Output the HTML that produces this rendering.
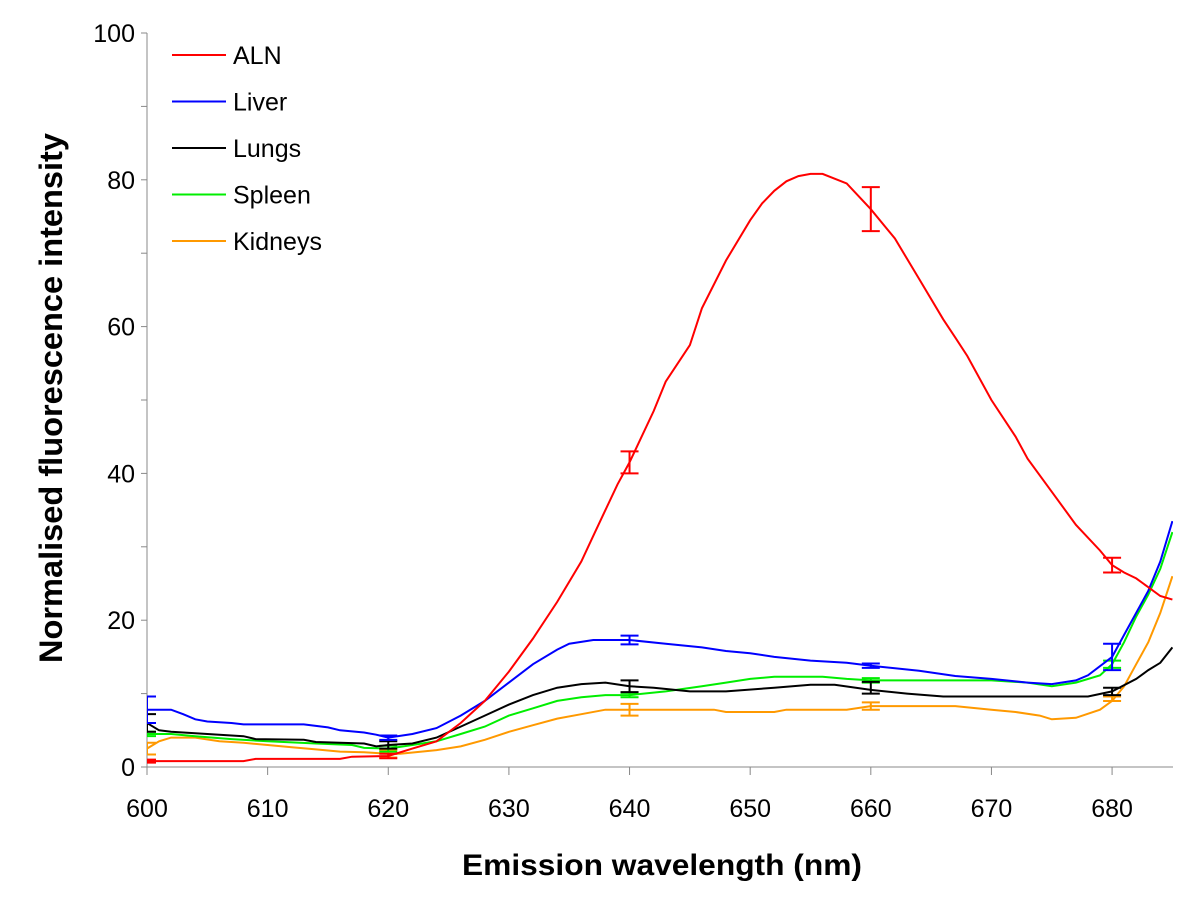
<!DOCTYPE html>
<html><head><meta charset="utf-8"><style>
body{margin:0;background:#fff}
svg text{font-family:"Liberation Sans",sans-serif}
</style></head><body>
<svg id="c" width="1200" height="901" xmlns="http://www.w3.org/2000/svg"></svg>
<script>
const xTicks=[600,610,620,630,640,650,660,670,680];
const yTicks=[0,20,40,60,80,100];
const seriesNames=["ALN","Liver","Lungs","Spleen","Kidneys"];
const seriesColors=["#ff0000","#0000ff","#000000","#00ee00","#ff9900"];
const alnX=[600,608,609,616,617,620,622,624,626,628,630,632,634,636,637,638,639,640,641,642,643,645,646,648,650,651,652,653,654,655,656,658,660,662,664,666,667,668,670,672,673,675,677,679,680,681,682,683,684,685];
const alnY=[0.8,0.8,1.1,1.1,1.4,1.5,2.5,3.5,6,9,13,17.5,22.5,28,31.5,35,38.5,41.5,45,48.5,52.5,57.5,62.5,69,74.5,76.8,78.5,79.8,80.5,80.8,80.8,79.5,76,72,66.5,61,58.5,56,50,45,42,37.5,33,29.5,27.5,26.5,25.7,24.5,23.3,22.8];
const liverX=[600,602,603,604,605,607,608,613,615,616,618,619,620,622,624,626,628,630,632,634,635,637,640,643,646,648,650,652,655,658,660,664,667,670,673,675,677,678,680,681,682,683,684,685];
const liverY=[7.8,7.8,7.2,6.5,6.2,6.0,5.8,5.8,5.4,5.0,4.7,4.4,4.0,4.5,5.3,7,9,11.5,14,16,16.8,17.3,17.3,16.8,16.3,15.8,15.5,15,14.5,14.2,13.8,13.1,12.4,12,11.5,11.3,11.8,12.5,15,18,21,24,28,33.5];
const lungsX=[600,601,602,604,608,609,613,614,618,619,620,622,624,626,628,630,632,634,636,638,640,642,645,648,652,655,657,660,663,666,670,675,678,680,682,683,684,685];
const lungsY=[6,5,4.8,4.6,4.2,3.8,3.7,3.4,3.2,2.8,3.0,3.2,4,5.5,7,8.5,9.8,10.8,11.3,11.5,11,10.8,10.3,10.3,10.8,11.2,11.2,10.5,10,9.6,9.6,9.6,9.6,10.3,12,13.2,14.2,16.3];
const spleenX=[600,602,604,607,610,614,617,618,620,622,624,626,628,630,632,634,636,638,640,643,646,648,650,652,656,658,660,665,670,673,675,677,679,680,681,682,683,684,685];
const spleenY=[4.5,4.5,4.2,3.8,3.5,3.2,3.0,2.6,2.5,3,3.5,4.5,5.5,7,8,9,9.5,9.8,9.8,10.3,11,11.5,12,12.3,12.3,12,11.8,11.8,11.8,11.5,11,11.5,12.5,14,17,20.5,23.5,27,32];
const kidneysX=[600,601,602,604,606,608,610,612,614,616,618,620,621,624,626,628,630,632,634,636,638,640,645,647,648,652,653,658,660,664,667,670,672,674,675,677,679,680,681,682,683,684,685];
const kidneysY=[2.5,3.5,4,4,3.5,3.3,3.0,2.7,2.4,2.1,2,1.8,1.8,2.3,2.8,3.7,4.8,5.7,6.6,7.2,7.8,7.8,7.8,7.8,7.5,7.5,7.8,7.8,8.3,8.3,8.3,7.8,7.5,7,6.5,6.7,7.8,9,11,14,17,21,26];
const errX=[600,620,640,660,680];
const alnErr=[[0.8,0.2],[1.5,0.3],[41.5,1.5],[76,3],[27.5,1]];
const liverErr=[[7.8,1.8],[4,0.3],[17.3,0.6],[13.8,0.3],[15,1.8]];
const lungsErr=[[6,1.2],[3,0.5],[11,0.8],[10.8,0.8],[10.3,0.5]];
const spleenErr=[[4.5,0.3],[2.5,0.4],[9.8,0.3],[11.8,0.3],[14,0.5]];
const kidneysErr=[[2.5,0.8],[1.8,0.5],[7.8,0.8],[8.3,0.5],[9.3,0.3]];

const NS="http://www.w3.org/2000/svg",svg=document.getElementById('c');
const X0=147,X1=1173,Y0=767,Y1=33,xmin=600,xmax=685.05,ymax=100;
const sx=v=>X0+(v-xmin)/(xmax-xmin)*(X1-X0);
const sy=v=>Y0-v/ymax*(Y0-Y1);
function mk(t,a,p){const e=document.createElementNS(NS,t);for(const k in a)e.setAttribute(k,a[k]);(p||svg).appendChild(e);return e;}
const defs=mk('defs',{});const cp=mk('clipPath',{id:'pc'},defs);mk('rect',{x:X0,y:0,width:X1-X0,height:Y0+2},cp);
const ya=mk('line',{x1:X0,y1:Y1,x2:X0,y2:Y0,stroke:'#888','stroke-width':1});

const xa=mk('line',{x1:X0,y1:Y0,x2:X1,y2:Y0,stroke:'#888','stroke-width':1});

for(let v=0;v<=ymax;v+=10){mk('line',{x1:X0-6,y1:sy(v),x2:X0,y2:sy(v),stroke:'#888'});}
yTicks.forEach(v=>{const t=mk('text',{x:X0-12,y:sy(v)+9,'text-anchor':'end','font-size':25});t.textContent=v;
});
xTicks.forEach(v=>{mk('line',{x1:sx(v),y1:Y0,x2:sx(v),y2:Y0+8,stroke:'#888'});
const t=mk('text',{x:sx(v),y:Y0+50,'text-anchor':'middle','font-size':25});t.textContent=v;
});
const xt=mk('text',{x:462,y:875,'font-size':30,'font-weight':'bold',textLength:400,lengthAdjust:'spacingAndGlyphs'});xt.textContent='Emission wavelength (nm)';

const yt=mk('text',{x:0,y:0,'font-size':32,'font-weight':'bold',textLength:530,lengthAdjust:'spacingAndGlyphs',transform:'translate(62,663) rotate(-90)'});yt.textContent='Normalised fluorescence intensity';

const xs=[alnX,liverX,lungsX,spleenX,kidneysX],ys=[alnY,liverY,lungsY,spleenY,kidneysY],es=[alnErr,liverErr,lungsErr,spleenErr,kidneysErr];
const g=mk('g',{'clip-path':'url(#pc)'});
[4,3,2,1,0].forEach(i=>{
 const d=xs[i].map((x,j)=>(j?'L':'M')+sx(x).toFixed(1)+','+sy(ys[i][j]).toFixed(1)).join('');
 const p=mk('path',{d:d,fill:'none',stroke:seriesColors[i],'stroke-width':2},g);
 
 es[i].forEach((e,j)=>{const x=sx(errX[j]),a=sy(e[0]+e[1]),b=sy(e[0]-e[1]);
  const eb=mk('path',{d:`M${x-9},${a}H${x+9}M${x},${a}V${b}M${x-9},${b}H${x+9}`,stroke:seriesColors[i],'stroke-width':2,fill:'none'},g);
  });
});
seriesNames.forEach((n,i)=>{const y=55+i*46.5;
 const lg=mk('g',{});
 mk('line',{x1:172,y1:y,x2:226,y2:y,stroke:seriesColors[i],'stroke-width':2},lg);
 const t=mk('text',{x:233,y:y+9,'font-size':25},lg);t.textContent=n;});
</script>
</body></html>
